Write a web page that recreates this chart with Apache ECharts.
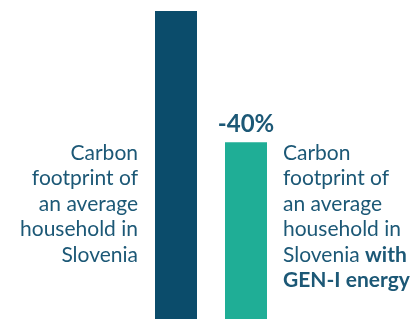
<!DOCTYPE html>
<html>
<head>
<meta charset="utf-8">
<script src="https://cdn.jsdelivr.net/npm/echarts@6/dist/echarts.min.js"></script>
<style>
html, body { margin: 0; padding: 0; background: #fff; }
#chart { width: 412px; height: 319px; }
</style>
</head>
<body>
<div id="chart"></div>
<script>
var categories = ['Slovenia', 'GEN-I'];
var values = [100, 60];
var labelTexts = [
	'Carbon\nfootprint of\nan average\nhousehold in\nSlovenia',
	'Carbon\nfootprint of\nan average\nhousehold in\nSlovenia {b|with}\n{b|GEN-I energy}'
];

var textColor = '#1c5876';
var chart = echarts.init(document.getElementById('chart'));

var change = Math.round((values[1] - values[0]) / values[0] * 100);

var option = {
	animation: false,
	grid: {
		left: 141,
		width: 140,
		top: 11,
		height: 328,
		outerBoundsMode: 'none'
	},
	xAxis: {
		type: 'category',
		data: categories,
		show: false
	},
	yAxis: {
		type: 'value',
		min: 0,
		max: 100,
		show: false
	},
	series: [{
		type: 'bar',
		barWidth: 42,
		data: [
			{
				value: values[0],
				itemStyle: { color: '#0b4c6b' },
				label: {
					position: [-17, 129],
					align: 'right',
					formatter: labelTexts[0]
				}
			},
			{
				value: values[1],
				itemStyle: { color: '#1fae96' },
				label: {
					position: [58, -2],
					align: 'left',
					formatter: labelTexts[1]
				}
			}
		],
		label: {
			show: true,
			verticalAlign: 'top',
			color: textColor,
			fontFamily: 'Lato',
			fontSize: 21,
			lineHeight: 25.5,
			rich: {
				b: {
					fontWeight: 'bold',
					color: textColor,
					fontFamily: 'Lato',
					fontSize: 21,
					lineHeight: 25.5
				}
			}
		}
	}, {
		type: 'bar',
		barWidth: 42,
		barGap: '-100%',
		silent: true,
		itemStyle: { color: 'transparent' },
		data: [
			{ value: values[0], label: { show: false } },
			{ value: values[1] }
		],
		label: {
			show: true,
			position: 'top',
			distance: 6,
			formatter: change + '%',
			color: textColor,
			fontFamily: 'Lato',
			fontWeight: 'bold',
			fontSize: 24
		}
	}]
};

chart.setOption(option);
</script>
</body>
</html>
